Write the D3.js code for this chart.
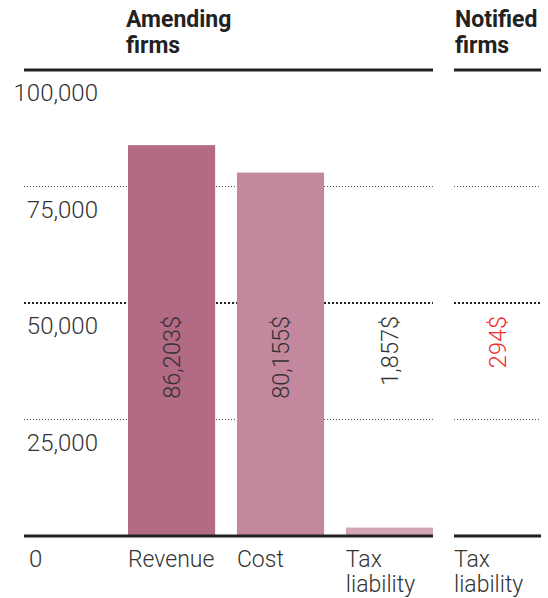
<!DOCTYPE html>
<html>
<head>
<meta charset="utf-8">
<script src="https://cdn.jsdelivr.net/npm/d3@7"></script>
<style>
  body { margin: 0; background: #fff; }
  svg { display: block; font-family: Roboto, sans-serif; }
</style>
</head>
<body>
<div id="chart"></div>
<script>
// data
const amendingCategories = ["Revenue", "Cost", "Tax liability"];
const amendingValues = [86203, 80155, 1857];
const notifiedCategories = ["Tax liability"];
const notifiedValues = [294];
const panelTitles = ["Amending firms", "Notified firms"];
const yTicks = [0, 25000, 50000, 75000, 100000];

const width = 548, height = 598;
const baseY = 536;

const barColor = (i) => ["#b26a85", "#c3889e", "#d4a6b7"][i] || "#d4a6b7";

const svg = d3.select("#chart").append("svg")
  .attr("width", width)
  .attr("height", height);

// axis scale (grid) and bar scale differ slightly in the original
const yScale = d3.scaleLinear().domain([0, 100000]).range([baseY, 70]);
const barScale = d3.scaleLinear().domain([0, 100000]).range([baseY, 82.6]);

const panels = [
  { title: panelTitles[0], categories: amendingCategories, values: amendingValues,
    x0: 24, x1: 433, barStart: 128, titleX: 126, labelColor: "#333" },
  { title: panelTitles[1], categories: notifiedCategories, values: notifiedValues,
    x0: 454, x1: 541, barStart: 454, titleX: 455, labelColor: "#ee2b2f" }
];

// y tick labels
svg.append("g")
  .attr("class", "y-labels")
  .selectAll("text")
  .data(yTicks)
  .enter().append("text")
  .attr("x", d => d === 0 ? 29 : 98)
  .attr("y", d => yScale(d) + 31)
  .attr("text-anchor", d => d === 0 ? "start" : "end")
  .style("font-size", "24px")
  .style("font-weight", 300)
  .style("fill", "#333")
  .text(d => d3.format(",")(d));

panels.forEach(p => {
  const g = svg.append("g").attr("class", "panel");

  const xScale = d3.scaleBand()
    .domain(p.categories)
    .range([p.barStart, p.x1])
    .paddingInner(p.categories.length > 1 ? 0.2 : 0)
    .paddingOuter(0);

  // title
  const title = g.append("text")
    .attr("x", p.titleX)
    .attr("y", 27)
    .style("font-size", "23px")
    .style("font-weight", "bold")
    .style("fill", "#222");
  p.title.split(" ").forEach((w, i) => {
    title.append("tspan")
      .attr("x", p.titleX)
      .attr("dy", i === 0 ? 0 : 26)
      .text(w);
  });

  // grid lines
  g.selectAll(".grid")
    .data(yTicks.filter(d => d > 0 && d < 100000))
    .enter().append("line")
    .attr("class", "grid")
    .attr("x1", p.x0)
    .attr("x2", p.x1)
    .attr("y1", d => yScale(d))
    .attr("y2", d => yScale(d))
    .style("stroke", d => d === 50000 ? "#222" : "#555")
    .style("stroke-width", d => d === 50000 ? 2 : 1)
    .style("stroke-dasharray", d => d === 50000 ? "2,2" : "1,2");

  // bars
  g.selectAll(".bar")
    .data(p.values)
    .enter().append("rect")
    .attr("class", "bar")
    .attr("x", (d, i) => xScale(p.categories[i]))
    .attr("width", xScale.bandwidth())
    .attr("y", d => barScale(d))
    .attr("height", d => baseY - barScale(d))
    .attr("fill", (d, i) => barColor(p.values.length === 1 ? 2 : i));

  // top rule and baseline
  [yScale(100000), baseY].forEach(y => {
    g.append("line")
      .attr("x1", p.x0)
      .attr("x2", p.x1)
      .attr("y1", y)
      .attr("y2", y)
      .style("stroke", "#222")
      .style("stroke-width", 3);
  });

  // value labels
  g.selectAll(".value")
    .data(p.values)
    .enter().append("text")
    .attr("class", "value")
    .attr("transform", (d, i) =>
      `translate(${xScale(p.categories[i]) + xScale.bandwidth() / 2}, 316) rotate(-90)`)
    .attr("dy", "0.35em")
    .attr("text-anchor", "end")
    .style("font-size", "23.5px")
    .style("font-weight", 300)
    .style("fill", p.labelColor)
    .text(d => d3.format(",")(d) + "$");

  // category labels
  p.categories.forEach(c => {
    const t = g.append("text")
      .attr("x", xScale(c))
      .attr("y", 567)
      .style("font-size", "23px")
      .style("font-weight", 300)
      .style("fill", "#333");
    c.split(" ").forEach((w, i) => {
      t.append("tspan")
        .attr("x", xScale(c))
        .attr("dy", i === 0 ? 0 : 25)
        .text(w);
    });
  });
});
</script>
</body>
</html>
